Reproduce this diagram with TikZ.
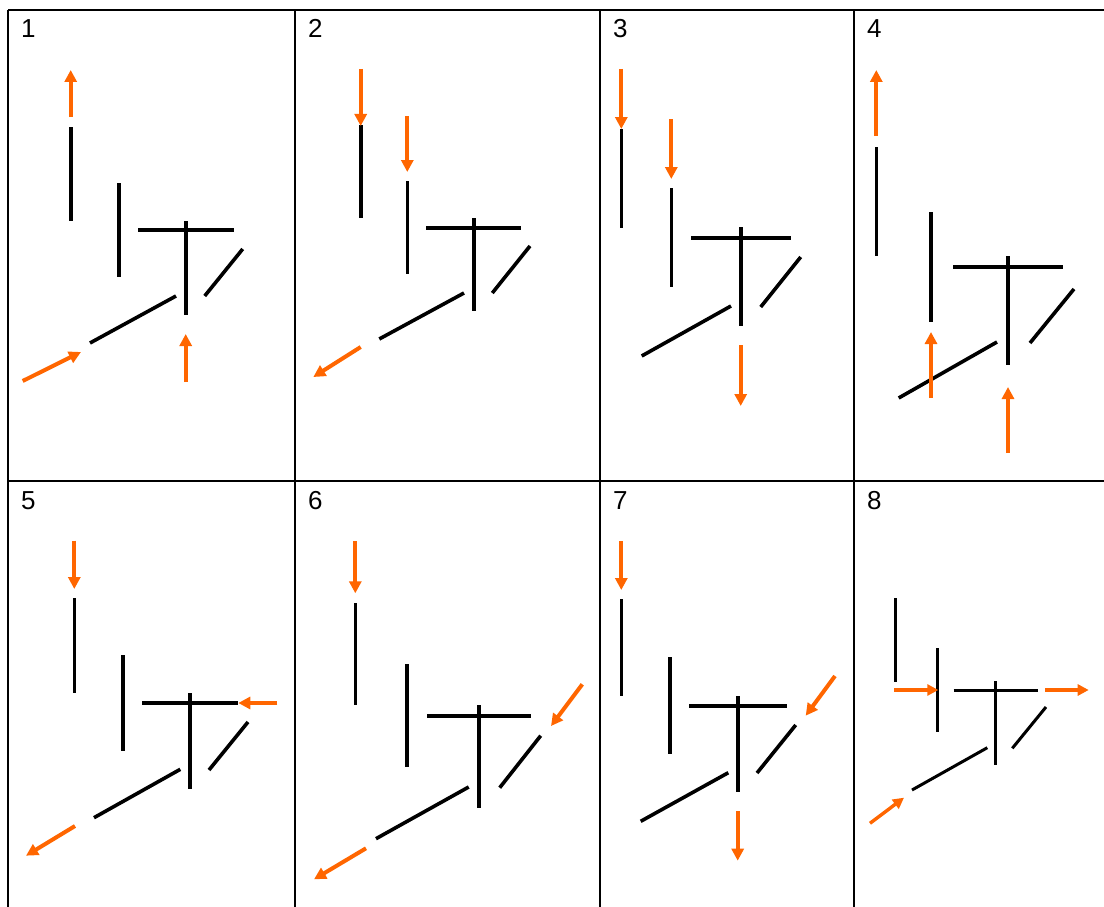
\documentclass[tikz,border=0pt]{standalone}
\usepackage{fontspec}
\setmainfont{Liberation Sans}
\usetikzlibrary{arrows.meta}
\definecolor{arr}{HTML}{FF6600}
\begin{document}
\begin{tikzpicture}[x=1pt,y=-1pt,
  grid/.style={line width=2pt,black},
  bar/.style={line width=3.6pt,black,line cap=butt},
  thinbar/.style={line width=3pt,black,line cap=butt},
  oarr/.style={line width=4pt,arr,line cap=butt,-{Triangle[width=12pt,length=12pt]}},
  soarr/.style={line width=3.4pt,arr,line cap=butt,-{Triangle[width=11pt,length=11pt]}},
  lbl/.style={anchor=base west,inner sep=0pt,font=\fontsize{26}{30}\selectfont}]
\useasboundingbox (0,0) rectangle (1104,907);
% grid
\draw[grid] (8,10) -- (1104,10);
\draw[grid] (8,481) -- (1104,481);
\foreach \cx in {8,295,600,854} \draw[grid] (\cx,10) -- (\cx,907);
% labels
\node[lbl] (l1) at (21,37.5) {1};
\node[lbl] (l2) at (308,37.5) {2};
\node[lbl] (l3) at (613,37.5) {3};
\node[lbl] (l4) at (867,37.5) {4};
\node[lbl] (l5) at (21,509.5) {5};
\node[lbl] (l6) at (308,509.5) {6};
\node[lbl] (l7) at (613,509.5) {7};
\node[lbl] (l8) at (867,509.5) {8};

% ---------- panel 1
\draw[bar] (70.7,127) -- (70.7,221);
\draw[bar] (119,183) -- (119,277);
\draw[bar] (138,230) -- (234,230);
\draw[bar] (185.7,221) -- (185.7,315);
\draw[bar] (204.7,296) -- (242.7,249);
\draw[bar] (90,343) -- (176,296);
\draw[oarr] (70.7,117) -- (70.7,70);
\draw[oarr] (22.7,381) -- (81,352);
\draw[oarr] (185.7,382) -- (185.7,334);

% ---------- panel 2
\draw[bar] (360.7,125) -- (360.7,218);
\draw[bar] (407.3,181) -- (407.3,274);
\draw[bar] (426,228) -- (521,228);
\draw[bar] (473.7,218) -- (473.7,311);
\draw[bar] (492.3,293) -- (530,246);
\draw[bar] (379.3,339) -- (464,293);
\draw[oarr] (360.7,69) -- (360.7,126);
\draw[oarr] (407.3,116) -- (407.3,172);
\draw[oarr] (360.7,347) -- (313.3,377);

% ---------- panel 3
\draw[bar] (621.3,129) -- (621.3,228);
\draw[bar] (671.3,188) -- (671.3,287);
\draw[bar] (691,238) -- (791,238);
\draw[bar] (740.7,227) -- (740.7,326);
\draw[bar] (760.7,307) -- (800.7,257);
\draw[bar] (641.7,356) -- (731,306);
\draw[oarr] (621.3,69) -- (621.3,129);
\draw[oarr] (671.3,119) -- (671.3,179);
\draw[oarr] (740.7,345) -- (740.7,406);

% ---------- panel 4
\draw[bar] (876.3,147) -- (876.3,256);
\draw[bar] (931,212) -- (931,322);
\draw[bar] (953,267) -- (1063.3,267);
\draw[bar] (1008,256) -- (1008,365);
\draw[bar] (1030,343) -- (1074,289);
\draw[bar] (898.7,398) -- (997,342);
\draw[oarr] (876.3,136) -- (876.3,70);
\draw[oarr] (931,398) -- (931,332);
\draw[oarr] (1008,453) -- (1008,387);

% ---------- panel 5
\draw[bar] (74.3,598.3) -- (74.3,693.3);
\draw[bar] (122.7,655) -- (122.7,750.7);
\draw[bar] (142.3,703) -- (238.3,703);
\draw[bar] (190,693) -- (190,788.7);
\draw[bar] (209,770) -- (248,722);
\draw[bar] (94,817.7) -- (180.3,769.3);
\draw[oarr] (74.3,540.7) -- (74.3,589);
\draw[oarr] (277.3,703) -- (238.3,703);
\draw[oarr] (75,826) -- (26,855.7);

% ---------- panel 6
\draw[bar] (355.3,603.3) -- (355.3,705.3);
\draw[bar] (406.7,664) -- (406.7,766.7);
\draw[bar] (427,716) -- (530.7,716);
\draw[bar] (479,705) -- (479,807.7);
\draw[bar] (499.7,787.7) -- (540.7,735.7);
\draw[bar] (376,838.7) -- (468.7,787);
\draw[oarr] (355.3,541) -- (355.3,593.3);
\draw[oarr] (582.3,684.3) -- (551,726);
\draw[oarr] (366,848.3) -- (314,879.3);

% ---------- panel 7
\draw[bar] (621.3,599.3) -- (621.3,695.7);
\draw[bar] (670,657.3) -- (670,753.7);
\draw[bar] (689,705.7) -- (786.7,705.7);
\draw[bar] (737.7,696) -- (737.7,792.3);
\draw[bar] (757,773) -- (795.7,725);
\draw[bar] (640.7,821.3) -- (728.3,772.7);
\draw[oarr] (621.3,541) -- (621.3,590);
\draw[oarr] (835,676) -- (805.7,715.7);
\draw[oarr] (737.7,811) -- (737.7,860.7);

% ---------- panel 8
\draw[thinbar] (895,598.3) -- (895,681.7);
\draw[thinbar] (937,648.3) -- (937,731.7);
\draw[thinbar] (953.7,690) -- (1037.7,690);
\draw[thinbar] (995.7,681.3) -- (995.7,764.7);
\draw[thinbar] (1012.3,748.3) -- (1046,707);
\draw[thinbar] (912,790) -- (987.3,747.7);
\draw[soarr] (894.3,690) -- (938.3,690);
\draw[soarr] (1045,690) -- (1088.7,690);
\draw[soarr] (870,823.3) -- (904,797.7);
\end{tikzpicture}
\end{document}
